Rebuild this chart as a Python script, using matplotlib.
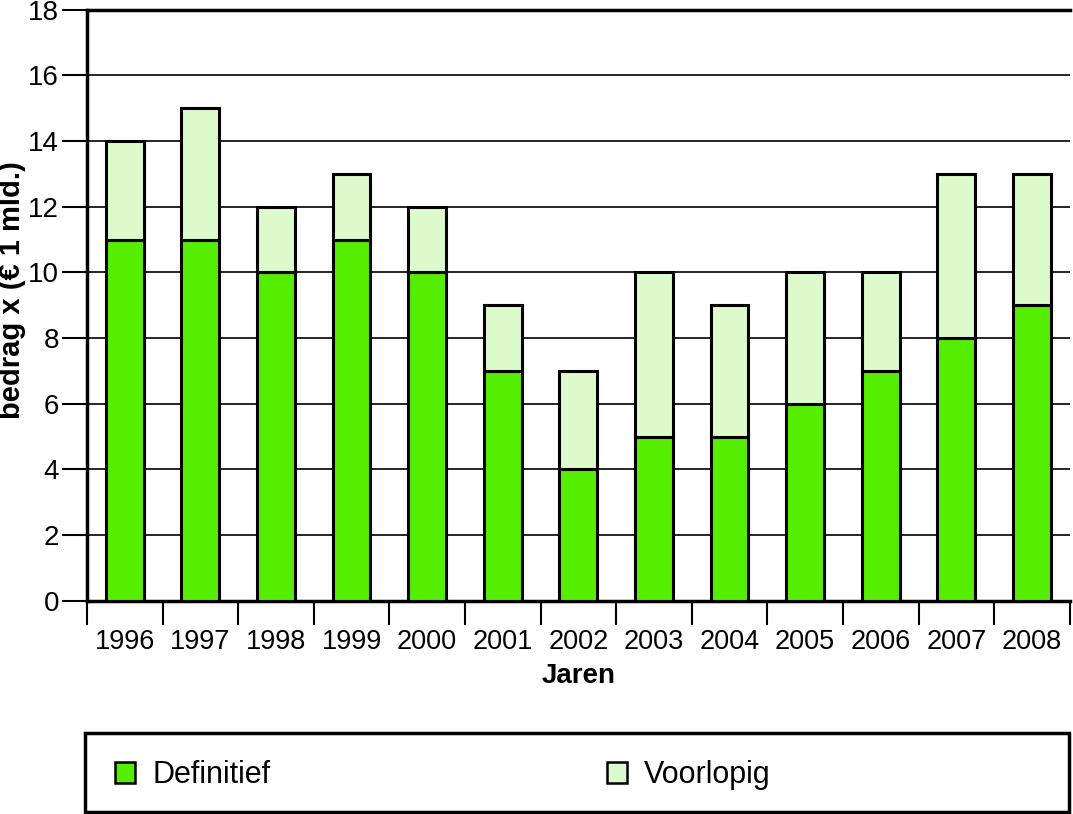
import matplotlib
matplotlib.use("Agg")
import matplotlib.pyplot as plt
import numpy as np
from matplotlib.patches import Patch, Rectangle

plt.rcParams['font.family'] = ['Liberation Sans', 'DejaVu Sans']

years = ['1996', '1997', '1998', '1999', '2000', '2001', '2002',
         '2003', '2004', '2005', '2006', '2007', '2008']
definitief = [11, 11, 10, 11, 10, 7, 4, 5, 5, 6, 7, 8, 9]
voorlopig = [3, 4, 2, 2, 2, 2, 3, 5, 4, 4, 3, 5, 4]

green = '#55EE00'
light = '#DDFACC'

fig = plt.figure(figsize=(10.73, 8.14), dpi=100)
ax = fig.add_axes([0.081, 0.262, 0.916, 0.726])

x = np.arange(len(years))
ax.bar(x, definitief, width=0.5, color=green, edgecolor='black', linewidth=2.2, zorder=3)
ax.bar(x, voorlopig, bottom=definitief, width=0.5, color=light, edgecolor='black', linewidth=2.2, zorder=3)

ax.set_xlim(-0.5, len(years) - 0.5)
ax.set_ylim(0, 18)
ax.set_yticks(np.arange(0, 19, 2))
ax.yaxis.grid(True, color='black', linewidth=1.2, zorder=0)
ax.set_axisbelow(True)

ax.set_xticks(x)
ax.set_xticklabels(years, fontsize=19.5)
ax.tick_params(axis='x', which='major', length=0, pad=20)
ax.set_xticks(np.arange(-0.5, len(years), 1), minor=True)
ax.tick_params(axis='x', which='minor', length=17, width=1.5, direction='out')
ax.tick_params(axis='y', labelsize=20, length=18, width=1.5, pad=2)

for s in ['left', 'top', 'bottom']:
    ax.spines[s].set_linewidth(2.5)
ax.spines['right'].set_visible(False)

ax.set_xlabel('Jaren', fontsize=20, fontweight='bold', labelpad=6)
ax.set_ylabel('bedrag x (€ 1 mld.)', fontsize=21, fontweight='bold')
ax.yaxis.set_label_coords(-0.062, 0.526)

# legend box
fig.patches.append(Rectangle((0.0795, 0.003), 0.917, 0.097, transform=fig.transFigure,
                             fill=False, edgecolor='black', linewidth=2.5))
handles = [Patch(facecolor=green, edgecolor='black', linewidth=1.8, label='Definitief'),
           Patch(facecolor=light, edgecolor='black', linewidth=1.8, label='Voorlopig')]
leg = fig.legend(handles=handles, loc='center left', bbox_to_anchor=(115 / 1073, 0.048),
                 ncol=2, fontsize=22, frameon=False,
                 handlelength=0.66, handleheight=0.66, borderpad=0.0,
                 handletextpad=0.56, borderaxespad=0.0, columnspacing=11.0)

fig.savefig('out.png', dpi=100)
